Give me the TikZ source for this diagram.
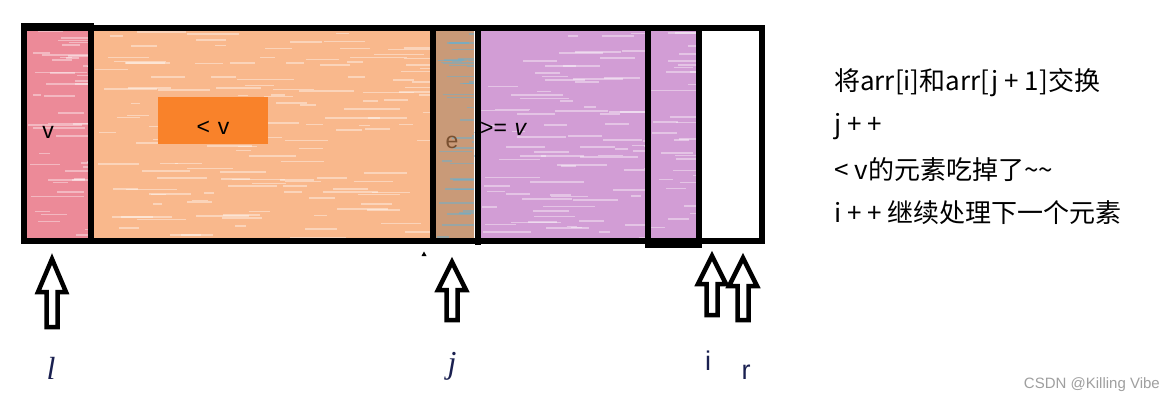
\documentclass[tikz,border=0pt]{standalone}
\usepackage{fontspec}
\setmainfont{Noto Sans CJK SC}
\setsansfont{Noto Sans CJK SC}
\newfontfamily\cjk{Noto Sans CJK SC}
\newfontfamily\lat{Liberation Sans}
\newfontfamily\serifit{Liberation Serif}
\definecolor{redc}{HTML}{EC8A98}
\definecolor{orac}{HTML}{F9B88C}
\definecolor{tealc}{HTML}{C99A78}
\definecolor{purc}{HTML}{D29DD5}
\definecolor{boxo}{HTML}{F9822A}
\definecolor{navy}{HTML}{1A2050}
\definecolor{brownt}{HTML}{7A5030}
\definecolor{skyc}{HTML}{4FB6E6}
\tikzset{
  frameline/.style={line width=6pt, line cap=rect},
  hollowarr/.style={draw=black, line width=4.5pt, line join=miter, fill=white},
  righttext/.style={anchor=west, font=\cjk\fontsize{26}{30}\selectfont, inner sep=0pt},
  celltext/.style={font=\lat\fontsize{23}{27}\selectfont, inner sep=0pt},
  ptrlabel/.style={inner sep=0pt, text=navy},
  streak/.style={line width=1.6pt, opacity=0.4},
}
\newcommand\uparrowshape[4]{% cx, top, headbase, bottom
  \draw[hollowarr] (#1,#2) -- (#1+14,#3) -- (#1+5.5,#3) -- (#1+5.5,#4)
    -- (#1-5.5,#4) -- (#1-5.5,#3) -- (#1-14,#3) -- cycle;}
% streaks: x0, x1, y0, y1, count, colour
\newcommand\streaks[6]{%
  \foreach \k in {1,...,#5}{%
    \pgfmathsetmacro\sy{#3+rnd*(#4-#3)}%
    \pgfmathsetmacro\sx{#1+rnd*(#2-#1)}%
    \pgfmathsetmacro\sl{8+rnd*50}%
    \pgfmathsetmacro\ex{min(\sx+\sl,#2)}%
    \draw[streak, #6] (\sx,\sy) -- (\ex,\sy);}}
\begin{document}
\begin{tikzpicture}[x=1pt,y=-1pt]
\pgfmathsetseed{7}
\useasboundingbox (0,0) rectangle (1175,404);
\fill[white] (0,0) rectangle (1175,404);
% cell fills
\fill[redc] (26,28) rectangle (89,239);
\fill[orac] (93,30) rectangle (431,239);
\fill[tealc] (435,30) rectangle (474,239);
\fill[purc] (480,30) rectangle (646,239);
\fill[purc] (650,30) rectangle (697,244);
% sketch texture
\streaks{26}{89}{30}{238}{45}{white}
\streaks{93}{431}{32}{238}{140}{white}
\streaks{435}{474}{32}{238}{40}{skyc}
\streaks{480}{646}{32}{238}{80}{white}
\streaks{650}{697}{32}{240}{30}{white}
% orange label box
\node[fill=boxo, minimum width=110pt, minimum height=47pt, inner sep=0pt] (lessbox) at (213,120.5) {};
\node[celltext] (lesstxt) at (213,128) {<\,\,v};
\node[celltext] (vtxt) at (48,132) {v};
\node[celltext, text=brownt] (etxt) at (452,142) {e};
\node[celltext, anchor=west] (getxt) at (480,129) {>=\,\,\textit{v}};
% frame lines
\draw[frameline] (23.5,26) rectangle (91,240.5);
\draw[frameline] (23.5,28.5) rectangle (761.5,240.5);
\draw[frameline] (433,28.5) -- (433,240.5);
\draw[frameline] (477.5,28.5) -- (477.5,241.5);
\draw[frameline] (648,28.5) -- (648,245) -- (698.5,245) -- (698.5,28.5);
% small mark
\fill[black] (421.5,256) -- (424,251.5) -- (426.5,256) -- cycle;
% pointer arrows
\uparrowshape{52}{259}{292}{327}
\uparrowshape{452}{262}{290}{320}
\uparrowshape{712}{256}{284}{315}
\uparrowshape{743}{258}{286}{320}
% pointer labels
\node[ptrlabel, font=\serifit\itshape\fontsize{32}{32}\selectfont] (lab-l) at (51,368) {l};
\node[ptrlabel, font=\serifit\itshape\fontsize{32}{32}\selectfont] (lab-j) at (452,366) {j};
\node[ptrlabel, font=\lat\fontsize{27}{27}\selectfont] (lab-i) at (708,361) {i};
\node[ptrlabel, font=\lat\fontsize{27}{27}\selectfont] (lab-r) at (746,372) {r};
% right-hand text
\node[righttext] (t1) at (834,83) {将arr[i]和arr[j + 1]交换};
\node[righttext] (t2) at (834,127) {j + +};
\node[righttext] (t3) at (834,170) {< v的元素吃掉了\~{}\~{}};
\node[righttext] (t4) at (834,213) {i + + 继续处理下一个元素};
% watermark
\node[anchor=east, inner sep=0pt, text=gray!75, font=\lat\fontsize{15}{15}\selectfont] (wm) at (1160,385) {CSDN @Killing Vibe};
\end{tikzpicture}
\end{document}
